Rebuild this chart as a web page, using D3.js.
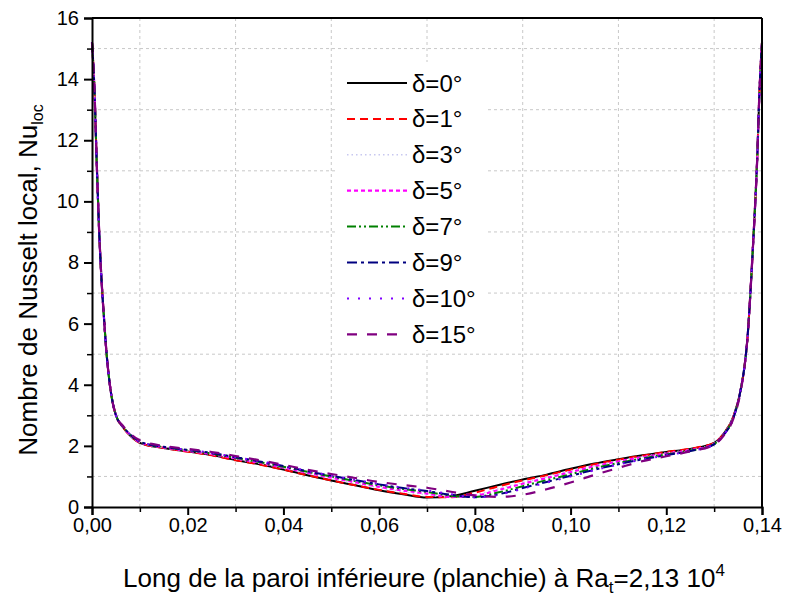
<!DOCTYPE html>
<html><head><meta charset="utf-8">
<script src="https://cdn.jsdelivr.net/npm/d3@7"></script>
<style>body{margin:0;background:#fff}svg{display:block}text{font-family:"Liberation Sans",Arial,sans-serif}</style>
</head><body><svg id="c" width="786" height="599"></svg>
<script>
const xs = [0,0.0005,0.001,0.0015,0.002,0.0025,0.003,0.0035,0.004,0.005,0.0065,0.008,0.01,0.015,
 0.02,0.025,0.03,0.035,0.04,0.045,0.05,0.055,0.06,0.065,0.07,0.075,0.08,0.085,0.09,0.095,0.1,0.105,0.11,0.115,0.12,0.125,0.13,
 0.132,0.134,0.1355,0.1365,0.137,0.1375,0.138,0.1386,0.139,0.1394,0.14];
const nu0 = [15.2,13.7,11.2,9.0,7.4,6.2,5.1,4.3,3.7,3.0,2.6,2.33,2.1,1.93,
 1.82,1.70,1.54,1.40,1.23,1.04,0.87,0.71,0.55,0.42,0.31,0.35,0.53,0.72,0.90,1.06,1.25,1.42,1.56,1.69,1.80,1.90,2.10,
 2.4,2.95,3.8,4.8,5.6,6.8,8.2,10.0,11.4,13.3,15.2];
const nu1 = [15.2,13.7,11.2,9.0,7.4,6.2,5.1,4.3,3.7,3.0,2.6,2.33,2.1,1.93,
 1.81,1.69,1.53,1.39,1.22,1.04,0.87,0.71,0.56,0.43,0.33,0.32,0.47,0.68,0.87,1.04,1.22,1.40,1.55,1.68,1.80,1.91,2.10,
 2.4,2.95,3.8,4.8,5.6,6.8,8.2,10.0,11.4,13.3,15.2];
const nu3 = [15.2,13.7,11.2,9.0,7.4,6.2,5.1,4.3,3.7,3.0,2.6,2.34,2.11,1.94,
 1.83,1.72,1.57,1.43,1.27,1.10,0.93,0.78,0.63,0.50,0.40,0.32,0.40,0.60,0.80,0.98,1.17,1.35,1.51,1.65,1.77,1.88,2.08,
 2.4,2.95,3.8,4.8,5.6,6.8,8.2,10.0,11.4,13.3,15.2];
const nu5 = [15.2,13.7,11.2,9.0,7.4,6.2,5.1,4.3,3.7,3.0,2.62,2.35,2.12,1.95,
 1.84,1.73,1.59,1.45,1.29,1.12,0.96,0.81,0.66,0.54,0.44,0.33,0.37,0.56,0.76,0.95,1.14,1.33,1.49,1.63,1.75,1.86,2.07,
 2.38,2.93,3.8,4.8,5.6,6.8,8.2,10.0,11.4,13.3,15.2];
const nu7 = [15.2,13.7,11.2,9.0,7.4,6.2,5.1,4.3,3.7,3.0,2.62,2.36,2.13,1.96,
 1.86,1.75,1.61,1.47,1.32,1.15,1.00,0.85,0.71,0.59,0.49,0.37,0.33,0.48,0.68,0.88,1.07,1.27,1.44,1.59,1.72,1.84,2.06,
 2.37,2.92,3.8,4.8,5.6,6.8,8.2,10.0,11.4,13.3,15.2];
const nu9 = [15.2,13.7,11.2,9.0,7.4,6.2,5.1,4.3,3.7,3.0,2.63,2.37,2.14,1.97,
 1.87,1.77,1.63,1.49,1.34,1.17,1.02,0.88,0.74,0.62,0.52,0.40,0.32,0.42,0.62,0.82,1.02,1.22,1.40,1.56,1.70,1.83,2.05,
 2.36,2.9,3.8,4.8,5.6,6.8,8.2,10.0,11.4,13.3,15.2];
const nu10 = [15.2,13.7,11.2,9.0,7.4,6.2,5.1,4.3,3.7,3.0,2.63,2.37,2.14,1.97,
 1.87,1.77,1.63,1.50,1.35,1.18,1.03,0.89,0.75,0.63,0.54,0.42,0.32,0.40,0.60,0.80,1.00,1.20,1.39,1.55,1.69,1.83,2.05,
 2.36,2.9,3.8,4.8,5.6,6.8,8.2,10.0,11.4,13.3,15.2];
const nu15 = [15.2,13.7,11.2,9.0,7.4,6.2,5.1,4.3,3.7,3.0,2.65,2.4,2.18,2.0,
 1.90,1.80,1.67,1.53,1.38,1.22,1.08,0.95,0.82,0.72,0.63,0.50,0.38,0.33,0.40,0.58,0.80,1.05,1.28,1.50,1.66,1.82,2.04,
 2.34,2.88,3.75,4.8,5.6,6.8,8.2,10.0,11.4,13.3,15.2];
const labels = ["δ=0°","δ=1°","δ=3°","δ=5°","δ=7°","δ=9°","δ=10°","δ=15°"];
const xTicks = [0,0.02,0.04,0.06,0.08,0.1,0.12,0.14];
const yTicks = [0,2,4,6,8,10,12,14,16];

const seriesData = [nu0,nu1,nu3,nu5,nu7,nu9,nu10,nu15];
const styles = [
 {c:"#000000",d:null,w:2},
 {c:"#ff0000",d:"8,5",w:2},
 {c:"#c8c8f0",d:"1.5,3",w:1.5},
 {c:"#ff00ff",d:"4,3",w:2.2},
 {c:"#008000",d:"9,3,2,3,2,3",w:2},
 {c:"#000080",d:"10,4,3,4",w:2},
 {c:"#8000ff",d:"2,9",w:2},
 {c:"#800080",d:"10,10",w:2.2}
];

const svg = d3.select("#c");
const L=92,R=762,T=18,B=507;
const x = d3.scaleLinear().domain([0,0.14]).range([L,R]);
const y = d3.scaleLinear().domain([0,16]).range([B,T]);
const fmtX = d => d3.format(".2f")(d).replace(".",",");

// grid at minor positions
const gx = d3.range(0.01,0.14,0.02), gy = d3.range(1,16,2);
const grid = svg.append("g").attr("stroke","#c8c8c8").attr("stroke-dasharray","3,3").attr("stroke-width",1);
gx.forEach(v=>grid.append("line").attr("x1",x(v)).attr("x2",x(v)).attr("y1",T).attr("y2",B));
gy.forEach(v=>grid.append("line").attr("x1",L).attr("x2",R).attr("y1",y(v)).attr("y2",y(v)));

// curves
const line = d3.line().x((d,i)=>x(xs[i])).y(d=>y(d)).curve(d3.curveMonotoneX);
const plot = svg.append("g");
seriesData.forEach((s,k)=>{
  plot.append("path").datum(s).attr("d",line).attr("fill","none")
   .attr("stroke",styles[k].c).attr("stroke-width",styles[k].w)
   .attr("stroke-dasharray",styles[k].d);
});

// legend
const lg = svg.append("g");
lg.append("rect").attr("x",336).attr("y",62).attr("width",152).attr("height",288).attr("fill","#fff");
labels.forEach((t,k)=>{
  const yy = 83 + k*35.9;
  lg.append("line").attr("x1",347).attr("x2",407).attr("y1",yy).attr("y2",yy)
   .attr("stroke",styles[k].c).attr("stroke-width",styles[k].w).attr("stroke-dasharray",styles[k].d);
  lg.append("text").attr("x",412).attr("y",yy+8.5).attr("font-size",24).attr("fill","#000").text(t);
});

// axes
const xAxis = d3.axisBottom(x).tickValues(xTicks).tickFormat(fmtX).tickSizeOuter(0).tickSize(8).tickPadding(3);
const gX = svg.append("g").attr("transform",`translate(0,${B})`).call(xAxis);
gX.selectAll("text").attr("font-size",20).attr("fill","#000");
gX.selectAll("line").attr("stroke","#000").attr("stroke-width",2);
gX.select(".domain").attr("stroke","#000").attr("stroke-width",2);
const xMinor = d3.axisBottom(x).tickValues(gx).tickFormat("").tickSize(5).tickSizeOuter(0);
const gXm = svg.append("g").attr("transform",`translate(0,${B})`).call(xMinor);
gXm.select(".domain").remove(); gXm.selectAll("line").attr("stroke","#000").attr("stroke-width",1.5);

const yAxis = d3.axisLeft(y).tickValues(yTicks).tickFormat(d3.format("d")).tickSizeOuter(0).tickSize(8).tickPadding(5);
const gY = svg.append("g").attr("transform",`translate(${L},0)`).call(yAxis);
gY.selectAll("text").attr("font-size",20).attr("fill","#000");
gY.selectAll("line").attr("stroke","#000").attr("stroke-width",2);
gY.select(".domain").attr("stroke","#000").attr("stroke-width",2);
const yMinor = d3.axisLeft(y).tickValues(gy).tickFormat("").tickSize(5).tickSizeOuter(0);
const gYm = svg.append("g").attr("transform",`translate(${L},0)`).call(yMinor);
gYm.select(".domain").remove(); gYm.selectAll("line").attr("stroke","#000").attr("stroke-width",1.5);

// frame top/right
svg.append("line").attr("x1",L).attr("x2",R).attr("y1",T).attr("y2",T).attr("stroke","#000").attr("stroke-width",2);
svg.append("line").attr("x1",R).attr("x2",R).attr("y1",T).attr("y2",B).attr("stroke","#000").attr("stroke-width",2);

// axis titles
const xt = svg.append("text").attr("x",424).attr("y",587).attr("text-anchor","middle").attr("font-size",26).attr("fill","#000");
xt.append("tspan").text("Long de la paroi inférieure (planchie) à Ra");
xt.append("tspan").attr("font-size",17).attr("dy",6).text("t");
xt.append("tspan").attr("dy",-6).text("=2,13 10");
xt.append("tspan").attr("font-size",17).attr("dy",-11).text("4");

const yt = svg.append("text").attr("transform",`translate(37,${280}) rotate(-90)`).attr("text-anchor","middle").attr("font-size",26).attr("fill","#000");
yt.append("tspan").text("Nombre de Nusselt local, Nu");
yt.append("tspan").attr("font-size",16).attr("dy",6).text("loc");
</script></body></html>
